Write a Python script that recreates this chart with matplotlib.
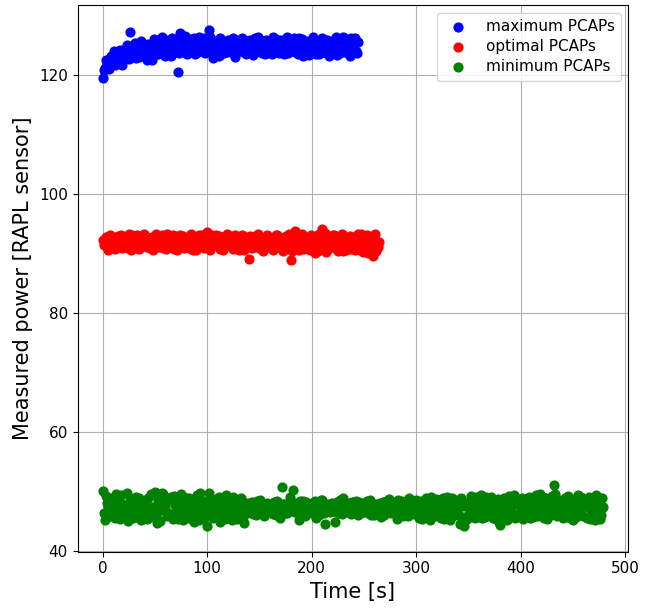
import numpy as np
import matplotlib
matplotlib.use("Agg")
import matplotlib.pyplot as plt

# Measurements sampled every 2 s; the "_b" lists hold the samples taken 1 s later
step = 2

max_power = [
    119.5, 121.3, 122.0, 121.0, 123.2, 122.4, 121.8, 123.6, 122.3, 123.9, 122.7,
    124.6, 123.0, 127.3, 123.5, 124.8, 122.9, 124.1, 125.2, 123.4, 124.4,
    122.6, 125.0, 123.8, 124.9, 125.6, 123.6, 124.3, 126.0, 124.7, 123.2,
    125.3, 124.0, 126.3, 123.9, 125.1, 120.6, 127.1, 124.6, 125.8, 123.7,
    124.9, 126.1, 125.2, 123.5, 124.5, 126.4, 124.2, 125.5, 123.8, 125.9,
    127.6, 124.6, 122.9, 125.7, 124.0, 126.2, 125.0, 123.7, 124.8, 125.9,
    124.3, 125.4, 123.6, 126.0, 124.9, 125.3, 123.9, 124.7, 125.8, 124.1,
    125.5, 123.4, 126.3, 124.6, 125.0, 123.8, 124.4, 125.9, 124.2, 125.6,
    123.5, 124.9, 126.1, 124.0, 125.3, 124.7, 123.6, 126.4, 125.1, 124.3,
    125.8, 123.9, 124.6, 126.2, 125.0, 123.3, 124.8, 125.5, 124.1, 126.0,
    124.5, 123.6, 125.7, 124.2, 126.3, 125.0, 123.8, 124.9, 125.6, 124.3,
    126.1, 123.4, 125.2, 124.7, 126.4, 123.9, 125.5, 124.4, 126.2, 125.0,
    124.1, 125.6,
]
max_power_b = [
    120.8, 122.6, 121.5, 122.9, 121.9, 124.0, 122.5, 123.1, 124.3, 121.7,
    123.4, 125.1, 122.8, 124.0, 123.7, 125.5, 124.2, 123.1, 125.8, 124.5,
    123.9, 125.3, 124.6, 122.5, 126.1, 124.8, 123.5, 125.4, 126.5, 124.0,
    124.4, 125.9, 123.3, 124.8, 126.0, 125.2, 123.8, 124.9, 125.6, 126.6,
    123.6, 125.3, 124.4, 126.2, 125.0, 123.9, 125.7, 124.6, 126.3, 124.2,
    125.1, 126.5, 123.7, 124.8, 125.5, 123.3, 126.0, 124.5, 125.2, 123.9,
    125.8, 124.4, 126.2, 123.1, 125.1, 124.6, 126.3, 125.0, 123.6, 124.9,
    126.0, 124.5, 125.2, 123.9, 126.4, 124.8, 125.7, 123.6, 125.0, 124.4,
    125.9, 126.5, 124.2, 125.5, 123.8, 126.0, 124.6, 125.2, 123.7, 125.8,
    124.4, 126.3, 125.1, 123.6, 124.9, 126.1, 124.3, 125.7, 123.4, 125.3,
    126.4, 124.0, 125.2, 123.5, 124.8, 126.1, 124.6, 125.9, 123.3, 125.4,
    124.2, 126.5, 125.3, 123.7, 124.6, 126.2, 124.0, 125.8, 123.2, 124.9,
    126.3, 123.8,
]

opt_power = [
    92.3, 91.6, 92.8, 91.2, 93.0, 92.0, 90.8, 92.5, 91.5, 93.2, 91.9,
    92.6, 90.9, 91.8, 93.1, 92.2, 91.0, 92.9, 91.4, 92.4, 93.3,
    91.1, 92.7, 91.7, 90.6, 92.1, 93.0, 91.3, 92.6, 90.9, 92.3,
    93.4, 91.6, 92.0, 90.8, 92.8, 91.4, 93.1, 92.2, 91.0, 92.5,
    91.8, 93.0, 90.7, 92.4, 91.5, 93.2, 92.0, 91.2, 92.7, 93.6,
    91.0, 92.5, 91.6, 93.1, 92.1, 90.8, 92.9, 91.4, 92.3, 91.9,
    93.0, 91.2, 92.6, 91.7, 90.6, 92.4, 91.3, 92.8, 91.8, 89.1,
    92.2, 91.5, 93.0, 92.0, 90.9, 92.6, 91.4, 92.9, 91.7, 92.3,
    91.0, 92.7, 93.1, 91.6, 92.2, 90.8, 92.5, 91.3, 93.3, 88.9,
    92.0, 93.8, 91.5, 90.7, 92.6, 91.2, 92.9, 91.8, 90.6, 92.4,
    91.4, 93.0, 90.4, 92.2, 94.2, 91.6, 90.3, 92.7, 91.1, 93.2,
    90.9, 92.4, 91.7, 93.0, 90.5, 92.1, 91.3, 92.8, 90.8, 92.5,
    91.6, 93.3, 90.6, 92.0, 91.2, 93.0, 90.2, 92.6, 91.4, 92.9,
    90.5, 92.0,
]
opt_power_b = [
    91.4, 92.9, 90.7, 93.2, 91.8, 92.4, 91.1, 93.0, 92.1, 90.9,
    92.7, 91.5, 93.4, 90.6, 92.3, 91.9, 93.1, 90.8, 92.5, 91.3,
    93.0, 92.0, 90.9, 92.8, 91.5, 93.3, 91.2, 92.4, 93.1, 91.7,
    90.8, 92.6, 91.4, 93.2, 92.1, 90.7, 92.9, 91.6, 93.0, 91.1,
    92.5, 91.0, 93.3, 91.9, 90.6, 92.8, 91.5, 93.1, 90.9, 92.2,
    92.8, 90.7, 93.2, 91.5, 92.4, 93.0, 91.1, 90.6, 92.7, 93.3,
    91.6, 92.3, 90.8, 93.1, 92.0, 91.4, 93.2, 90.7, 92.5, 91.3,
    93.0, 90.9, 92.4, 91.6, 93.3, 91.8, 90.5, 92.7, 93.1, 91.2,
    92.4, 90.6, 91.9, 93.2, 92.8, 91.3, 90.4, 93.0, 92.1, 91.7,
    90.5, 92.3, 93.0, 91.1, 92.7, 93.4, 90.8, 91.5, 92.8, 93.2,
    92.6, 90.2, 91.8, 93.3, 92.0, 91.0, 93.5, 90.6, 92.4, 91.7,
    93.1, 91.3, 90.4, 92.6, 93.4, 91.9, 90.7, 92.2, 93.0, 91.4,
    90.7, 92.5, 91.8, 93.4, 90.3, 92.2, 93.1, 91.0, 92.7, 89.6,
    93.3, 91.2,
]

min_power = [
    50.1, 45.3, 48.2, 46.7, 49.0, 47.3, 45.6, 48.6, 47.0, 49.4,
    46.2, 47.8, 45.1, 48.9, 46.8, 47.5, 49.2, 45.8, 47.9, 46.4,
    48.4, 45.5, 47.1, 49.6, 46.5, 50.0, 44.8, 48.1, 46.9, 49.7,
    47.4, 45.9, 48.7, 46.3, 49.3, 47.6, 45.4, 48.0, 46.6, 49.1,
    47.2, 45.7, 48.5, 46.1, 47.8, 49.5, 45.2, 47.0, 48.3, 46.4,
    44.3, 49.9, 47.5, 45.6, 48.8, 46.7, 44.9, 48.2, 47.1, 49.4,
    46.0, 47.7, 45.3, 48.6, 46.9, 47.4, 49.0, 45.8, 47.9, 46.5,
    48.1, 47.0, 46.3, 47.8, 48.5, 46.6, 47.3, 45.9, 48.0, 47.2,
    46.8, 47.6, 48.3, 46.2, 47.5, 45.7, 50.9, 47.9, 46.4, 48.2,
    47.1, 50.3, 46.6, 47.8, 45.2, 47.4, 48.4, 46.0, 47.7, 46.9,
    48.2, 47.3, 45.6, 47.9, 46.8, 48.6, 46.4, 47.5, 48.0, 46.7,
    47.2, 45.0, 48.3, 46.5, 47.8, 48.9, 46.9, 47.4, 48.1, 46.3,
    47.6, 48.4, 46.1, 47.9, 46.8, 48.2, 47.0, 46.5, 48.6, 47.3,
    46.2, 48.0, 47.5, 45.8, 48.3, 46.7, 47.7, 48.8, 46.4, 47.2,
    48.1, 45.5, 47.6, 48.5, 46.6, 47.9, 45.9, 48.2, 47.0, 46.3,
    48.7, 46.8, 47.4, 45.4, 48.0, 47.1, 46.2, 49.2, 47.6, 46.0,
    48.4, 47.3, 45.7, 48.9, 46.6, 47.8, 45.3, 49.0, 47.0, 46.4,
    48.5, 44.6, 47.7, 44.2, 48.2, 46.1, 49.3, 47.2, 45.6, 48.6,
    46.9, 49.4, 47.5, 45.8, 48.0, 46.3, 49.1, 47.4, 45.5, 48.8,
    44.4, 47.1, 49.0, 46.7, 48.3, 45.9, 47.8, 49.5, 46.2, 48.1,
    47.0, 45.4, 48.7, 46.5, 49.2, 47.3, 45.8, 48.4, 46.8, 49.6,
    47.5, 45.6, 48.9, 46.4, 47.9, 49.3, 51.1, 46.1, 48.2, 47.2,
    45.7, 49.0, 46.9, 48.5, 47.1, 45.3, 48.8, 46.6, 47.8, 49.1,
    46.0, 48.3, 47.4, 45.5, 48.6, 46.8, 49.4, 47.0, 45.4, 48.9,
]
min_power_b = [
    46.5, 49.3, 47.6, 45.9, 48.4, 46.1, 49.7, 47.2, 45.4, 48.0,
    47.0, 49.8, 46.3, 48.1, 45.6, 48.7, 46.9, 49.0, 45.2, 47.7,
    46.6, 48.9, 45.8, 47.5, 49.4, 46.0, 48.3, 45.1, 49.9, 47.3,
    48.6, 46.4, 49.1, 45.5, 47.8, 48.2, 46.7, 49.6, 45.3, 47.9,
    46.2, 49.0, 47.4, 45.0, 48.8, 46.6, 49.8, 47.7, 45.7, 48.4,
    47.8, 46.1, 48.5, 45.9, 47.3, 49.2, 46.4, 48.6, 45.4, 47.6,
    48.4, 46.2, 49.1, 47.0, 45.5, 48.0, 46.8, 44.7, 48.2, 47.4,
    46.9, 48.3, 47.5, 46.1, 47.9, 48.6, 46.5, 47.2, 48.1, 46.7,
    47.9, 46.3, 47.4, 48.5, 46.9, 47.7, 48.0, 46.4, 47.3, 49.2,
    46.8, 48.1, 47.6, 46.4, 48.5, 46.9, 47.2, 48.3, 46.5, 47.8,
    46.6, 48.4, 47.1, 46.2, 48.7, 47.5, 44.6, 47.8, 46.9, 48.2,
    47.9, 46.7, 47.2, 48.6, 46.3, 47.6, 48.0, 46.6, 47.4, 48.3,
    46.8, 47.5, 48.3, 46.4, 47.7, 46.9, 48.5, 47.1, 46.2, 47.9,
    47.7, 46.5, 48.2, 47.0, 46.1, 48.4, 47.3, 46.6, 48.0, 46.9,
    46.7, 48.6, 47.2, 46.0, 48.3, 47.5, 48.9, 46.4, 47.8, 48.5,
    47.3, 45.6, 48.5, 46.9, 49.0, 47.7, 45.3, 48.2, 46.5, 48.8,
    46.1, 48.7, 47.5, 45.4, 49.1, 46.8, 48.0, 45.9, 48.6, 47.4,
    46.2, 48.9, 45.0, 47.6, 45.5, 48.4, 46.6, 47.9, 49.1, 46.0,
    48.3, 45.7, 47.0, 49.2, 46.4, 48.5, 45.6, 48.0, 46.9, 44.9,
    48.6, 46.0, 47.5, 45.3, 49.3, 46.8, 48.2, 45.7, 47.9, 46.5,
    48.9, 46.6, 47.4, 49.0, 45.6, 48.1, 46.9, 49.4, 45.9, 47.7,
    49.1, 47.0, 45.4, 48.4, 46.2, 47.6, 49.7, 45.9, 48.7, 46.3,
    48.2, 46.8, 49.3, 45.6, 48.0, 47.3, 45.8, 49.5, 46.4, 48.5,
    47.7, 45.7, 49.2, 46.9, 48.0, 45.3, 47.6, 49.0, 46.2, 47.4,
]

series_labels = ["maximum PCAPs", "optimal PCAPs", "minimum PCAPs"]
series_colors = ["blue", "red", "green"]
series_a = [max_power, opt_power, min_power]
series_b = [max_power_b, opt_power_b, min_power_b]

fig = plt.figure(figsize=(6.52, 6.10), dpi=100)
ax = fig.add_axes([0.119, 0.0955, 0.8447, 0.8963])

for va, vb, lab, col in zip(series_a, series_b, series_labels, series_colors):
    ta = np.arange(len(va)) * step
    tb = np.arange(len(vb)) * step + 1
    t = np.concatenate([ta, tb])
    v = np.concatenate([va, vb])
    ax.scatter(t, v, c=col, label=lab, s=40, zorder=3)

ax.set_ylim(39.95, 131.8)
ax.grid(True, color="#b0b0b0", linewidth=0.8)
ax.set_axisbelow(True)
ax.set_xlabel("Time [s]", fontsize=15)
ax.set_ylabel("Measured power [RAPL sensor]", fontsize=15)
ax.tick_params(labelsize=11)
ax.legend(loc="upper right", fontsize=11, labelspacing=0.35)

fig.savefig("out.png", dpi=100)
